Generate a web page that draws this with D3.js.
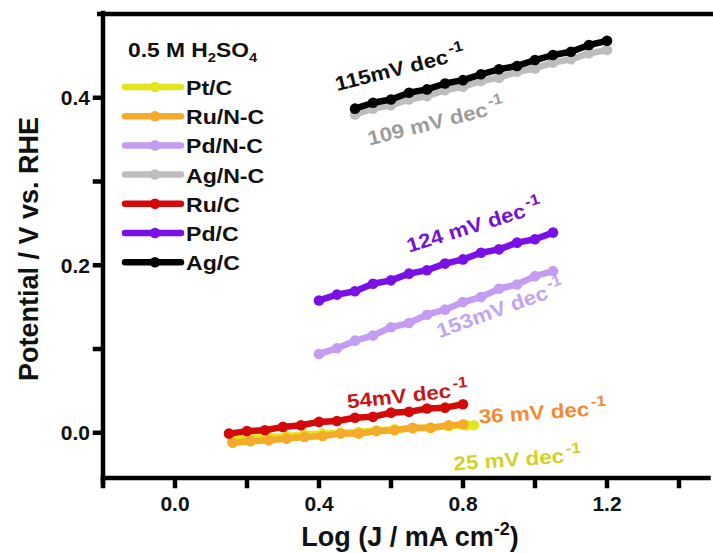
<!DOCTYPE html>
<html>
<head>
<meta charset="utf-8">
<script src="https://cdn.jsdelivr.net/npm/d3@7"></script>
<style>
  body { margin: 0; background: #fff; }
  svg { display: block; font-family: "Liberation Sans", Arial, sans-serif; font-weight: bold; }
</style>
</head>
<body>
<svg id="chart" width="713" height="553"></svg>
<script>
// Tafel data: log current density (x) vs potential (V vs. RHE)
const seriesNames = ["Pt/C", "Ru/N-C", "Pd/N-C", "Ag/N-C", "Ru/C", "Pd/C", "Ag/C"];
const seriesColors = ["#e4e41a", "#f5aa2a", "#c49cf2", "#bdbdbd", "#d40a0a", "#7a0fe6", "#000000"];

const ptcX = [0.16, 0.21, 0.26, 0.31, 0.36, 0.41, 0.46, 0.51, 0.56, 0.61, 0.66, 0.71, 0.76, 0.81, 0.83];
const ptcY = [-0.008, -0.006, -0.005, -0.004, -0.002, -0.001, 0.000, 0.001, 0.003, 0.004, 0.005, 0.006, 0.008, 0.009, 0.009];

const runcX = [0.16, 0.21, 0.26, 0.31, 0.36, 0.41, 0.46, 0.51, 0.56, 0.61, 0.66, 0.71, 0.76, 0.80];
const runcY = [-0.012, -0.010, -0.009, -0.007, -0.005, -0.004, -0.001, -0.001, 0.002, 0.003, 0.006, 0.006, 0.009, 0.010];

const pdncX = [0.40, 0.45, 0.50, 0.55, 0.60, 0.65, 0.70, 0.75, 0.80, 0.85, 0.90, 0.95, 1.00, 1.05];
const pdncY = [0.094, 0.101, 0.110, 0.116, 0.126, 0.131, 0.141, 0.147, 0.156, 0.162, 0.172, 0.177, 0.187, 0.193];

const agncX = [0.50, 0.55, 0.60, 0.65, 0.70, 0.75, 0.80, 0.85, 0.90, 0.95, 1.00, 1.05, 1.10, 1.15, 1.20];
const agncY = [0.380, 0.387, 0.391, 0.398, 0.402, 0.409, 0.413, 0.420, 0.424, 0.431, 0.435, 0.442, 0.446, 0.453, 0.457];

const rucX = [0.15, 0.20, 0.25, 0.30, 0.35, 0.40, 0.45, 0.50, 0.55, 0.60, 0.65, 0.70, 0.75, 0.80];
const rucY = [-0.001, 0.002, 0.003, 0.007, 0.009, 0.013, 0.014, 0.018, 0.019, 0.024, 0.025, 0.029, 0.030, 0.034];

const pdcX = [0.40, 0.45, 0.50, 0.55, 0.60, 0.65, 0.70, 0.75, 0.80, 0.85, 0.90, 0.95, 1.00, 1.05];
const pdcY = [0.158, 0.165, 0.169, 0.178, 0.182, 0.190, 0.194, 0.202, 0.207, 0.215, 0.219, 0.227, 0.231, 0.239];

const agcX = [0.50, 0.55, 0.60, 0.65, 0.70, 0.75, 0.80, 0.85, 0.90, 0.95, 1.00, 1.05, 1.10, 1.15, 1.20];
const agcY = [0.387, 0.394, 0.398, 0.406, 0.410, 0.417, 0.421, 0.428, 0.434, 0.438, 0.445, 0.451, 0.455, 0.463, 0.468];

const seriesX = [ptcX, runcX, pdncX, agncX, rucX, pdcX, agcX];
const seriesY = [ptcY, runcY, pdncY, agncY, rucY, pdcY, agcY];

// Tafel slope annotations
const slopeLabels = ["25 mV dec", "36 mV dec", "153mV dec", "109 mV dec", "54mV dec", "124 mV dec", "115mV dec"];
const slopeColors = ["#d2d226", "#f28a30", "#c4a4f2", "#9c9c9c", "#c81616", "#7412d6", "#111111"];
const slopeAnchorX = [0.775, 0.845, 0.735, 0.54, 0.48, 0.65, 0.45];
const slopeAnchorY = [-0.045, 0.011, 0.113, 0.343, 0.029, 0.215, 0.408];
const slopeAngles = [-4, -4, -20, -14, -6, -17, -14];

const xTicks = [-0.2, 0.0, 0.2, 0.4, 0.6, 0.8, 1.0, 1.2, 1.4];
const xTickLabels = [0.0, 0.4, 0.8, 1.2];
const yTicks = [0.0, 0.1, 0.2, 0.3, 0.4];
const yTickLabels = [0.0, 0.2, 0.4];

const FONT = "Liberation Sans, Arial, sans-serif";
const svg = d3.select("#chart");
const x = d3.scaleLinear().domain([-0.2, 1.45]).range([103, 697]);
const y = d3.scaleLinear().domain([-0.054, 0.5]).range([478, 14]);

const axisW = 4.5, tickLen = 8;
const x0 = x.range()[0], y0 = y.range()[0], yTop = y.range()[1];
const fmt = d3.format(".1f");
const isLabelled = (list, d) => list.some(v => Math.abs(v - d) < 1e-9);

// frame drawn as filled bars: left, bottom and top
const frame = svg.append("g").attr("fill", "#000");
frame.append("rect").attr("x", x0 - axisW / 2).attr("y", yTop - axisW / 2 - 1).attr("width", axisW).attr("height", y0 - yTop + axisW + 6);
frame.append("rect").attr("x", x0 - axisW / 2).attr("y", y0 - axisW / 2).attr("width", 713 - x0).attr("height", axisW);
frame.append("rect").attr("x", x0 - 6).attr("y", yTop - axisW / 2).attr("width", 713 - x0 + 6).attr("height", axisW);

// x ticks and labels
const gx = svg.append("g");
gx.selectAll("rect").data(xTicks).join("rect")
  .attr("x", d => x(d) - axisW / 2).attr("y", y0).attr("width", axisW).attr("height", tickLen + axisW / 2).attr("fill", "#000");
gx.selectAll("text").data(xTicks.filter(d => isLabelled(xTickLabels, d))).join("text")
  .attr("x", d => x(d)).attr("y", y0 + 33).attr("text-anchor", "middle")
  .attr("font-size", 21).attr("fill", "#111").text(d => fmt(d));

// y ticks and labels
const gy = svg.append("g");
gy.selectAll("rect").data(yTicks).join("rect")
  .attr("x", x0 - tickLen - axisW / 2).attr("y", d => y(d) - axisW / 2).attr("width", tickLen + axisW / 2).attr("height", axisW).attr("fill", "#000");
gy.selectAll("text").data(yTicks.filter(d => isLabelled(yTickLabels, d))).join("text")
  .attr("x", x0 - tickLen - 5).attr("y", d => y(d) + 7.5).attr("text-anchor", "end")
  .attr("font-size", 21).attr("fill", "#111").text(d => fmt(d));

// axis titles
svg.append("text").attr("x", 410).attr("y", 546).attr("text-anchor", "middle").attr("font-size", 27).attr("fill", "#111")
  .call(t => {
    t.append("tspan").text("Log (J / mA cm");
    t.append("tspan").attr("font-size", 18).attr("dy", -11).text("-2");
    t.append("tspan").attr("dy", 11).text(")");
  });
svg.append("text").attr("transform", "translate(38,249) rotate(-90)").attr("text-anchor", "middle").attr("font-size", 27).attr("fill", "#111")
  .text("Potential / V vs. RHE");

// series
const line = d3.line().x(d => x(d[0])).y(d => y(d[1]));
seriesNames.forEach((name, i) => {
  const pts = seriesX[i].map((v, j) => [v, seriesY[i][j]]);
  const g = svg.append("g");
  g.append("path").datum(pts).attr("d", line).attr("fill", "none").attr("stroke", seriesColors[i]).attr("stroke-width", 6.5).attr("stroke-linejoin", "round").attr("stroke-linecap", "round");
  g.selectAll("circle").data(pts).join("circle").attr("cx", d => x(d[0])).attr("cy", d => y(d[1])).attr("r", 5.3).attr("fill", seriesColors[i]);
});

// slope annotations
slopeLabels.forEach((lab, i) => {
  const t = svg.append("text")
    .attr("transform", `translate(${x(slopeAnchorX[i])},${y(slopeAnchorY[i])}) rotate(${slopeAngles[i]}) scale(1.12,1)`)
    .attr("font-size", 20).attr("fill", slopeColors[i]);
  t.append("tspan").text(lab);
  t.append("tspan").attr("font-size", 15).attr("dx", 2).attr("dy", -9).text("-1");
});

// legend
const legend = svg.append("g");
legend.append("text").attr("transform", "translate(128,57) scale(1.14,1)").attr("font-size", 20).attr("fill", "#111")
  .call(t => {
    t.append("tspan").text("0.5 M H");
    t.append("tspan").attr("font-size", 13).attr("dy", 5).text("2");
    t.append("tspan").attr("dy", -5).text("SO");
    t.append("tspan").attr("font-size", 13).attr("dy", 5).text("4");
  });
seriesNames.forEach((name, i) => {
  const ly = 87 + i * 29.2;
  legend.append("line").attr("x1", 125).attr("x2", 181).attr("y1", ly).attr("y2", ly).attr("stroke", seriesColors[i]).attr("stroke-width", 6.5).attr("stroke-linecap", "round");
  legend.append("circle").attr("cx", 155).attr("cy", ly).attr("r", 5.3).attr("fill", seriesColors[i]);
  legend.append("text").attr("transform", `translate(186,${ly + 8}) scale(1.1,1)`).attr("font-size", 21).attr("fill", "#111").text(name);
});
</script>
</body>
</html>
